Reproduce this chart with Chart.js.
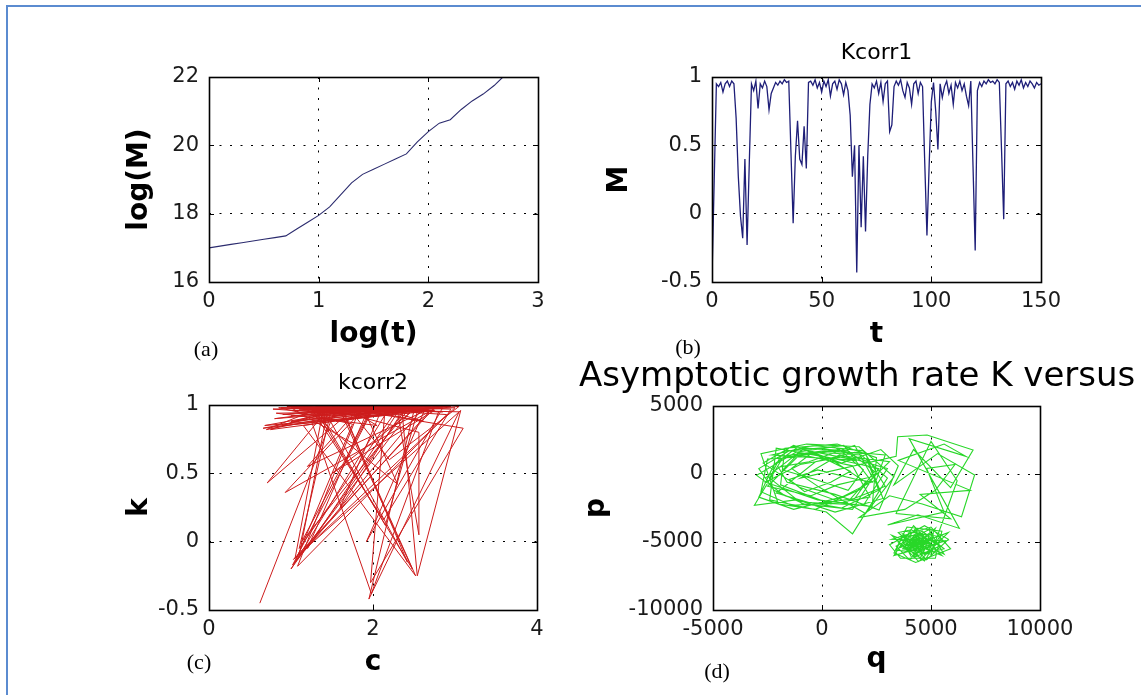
<!DOCTYPE html>
<html><head><meta charset="utf-8">
<script src="https://cdn.jsdelivr.net/npm/chart.js@4.4.1/dist/chart.umd.min.js"></script>
<style>
html,body{margin:0;padding:0;background:#fff;width:1141px;height:695px;overflow:hidden;position:relative;}
canvas{position:absolute;}
.hline{position:absolute;left:6px;top:5px;width:1135px;height:2px;background:#5b8bd0;}
.vline{position:absolute;left:6px;top:5px;width:2px;height:690px;background:#5b8bd0;}
.lab{position:absolute;font-family:"Liberation Serif","Times New Roman",serif;font-size:22px;color:#000;transform:translate(-50%,-50%);line-height:1;white-space:nowrap;}
.bigtitle{position:absolute;left:579px;top:357px;font-family:"DejaVu Sans",sans-serif;font-size:34px;line-height:1;white-space:nowrap;color:#000;}
</style></head>
<body>
<div class="hline"></div><div class="vline"></div>
<canvas id="cA" width="460" height="340" style="left:100px;top:30px"></canvas>
<canvas id="cB" width="480" height="340" style="left:590px;top:30px"></canvas>
<canvas id="cC" width="460" height="325" style="left:100px;top:370px"></canvas>
<canvas id="cD" width="581" height="325" style="left:560px;top:370px"></canvas>
<div class="bigtitle">Asymptotic growth rate K versus</div>
<div class="lab" style="left:206px;top:349px">(a)</div>
<div class="lab" style="left:688px;top:347px">(b)</div>
<div class="lab" style="left:199px;top:662px">(c)</div>
<div class="lab" style="left:717px;top:671px">(d)</div>
<script>
// ---------- data ----------
// (a) log(M) versus log(t)
const aLogT = [0, 0.1, 0.2, 0.3, 0.4, 0.5, 0.6, 0.7, 0.8, 0.9, 1.0, 1.1, 1.2, 1.3, 1.4, 1.5, 1.6, 1.7, 1.8, 1.9, 2.0, 2.1, 2.2, 2.3, 2.4, 2.5, 2.6, 2.68];
const aLogM = [17.0, 17.05, 17.1, 17.15, 17.2, 17.25, 17.3, 17.35, 17.55, 17.75, 17.95, 18.2, 18.55, 18.9, 19.15, 19.3, 19.45, 19.6, 19.75, 20.1, 20.4, 20.65, 20.75, 21.05, 21.3, 21.5, 21.75, 22.0];
const aXTicks = [0, 1, 2, 3];
const aYTicks = [16, 18, 20, 22];

// (b) Kcorr1: M versus t
const bT = [0,1,2,3,4,5,6,7,8,9,10,11,12,13,14,15,16,17,18,19,20,21,22,23,24,25,26,27,28,29,30,31,32,33,34,35,36,37,38,39,40,41,42,43,44,45,46,47,48,49,50,51,52,53,54,55,56,57,58,59,60,61,62,63,64,65,66,67,68,69,70,71,72,73,74,75,76,77,78,79,80,81,82,83,84,85,86,87,88,89,90,91,92,93,94,95,96,97,98,99,100,101,102,103,104,105,106,107,108,109,110,111,112,113,114,115,116,117,118,119,120,121,122,123,124,125,126,127,128,129,130,131,132,133,134,135,136,137,138,139,140,141,142,143,144,145,146,147,148,149,150];
const bM = [-0.47, 0.24, 0.95, 0.93, 0.96, 0.89, 0.95, 0.97, 0.93, 0.97,
  0.95, 0.70, 0.27, -0.02, -0.18, 0.40, -0.23, 0.37, 0.95, 0.90,
  0.97, 0.77, 0.95, 0.92, 0.97, 0.93, 0.76, 0.88, 0.92, 0.96,
  0.94, 0.97, 0.95, 0.98, 0.96, 0.97, 0.45, -0.07, 0.42, 0.68,
  0.40, 0.36, 0.64, 0.33, 0.96, 0.97, 0.94, 0.98, 0.92, 0.96,
  0.89, 0.97, 0.93, 0.98, 0.86, 0.95, 0.97, 0.91, 0.98, 0.95,
  0.87, 0.96, 0.90, 0.72, 0.27, 0.50, -0.43, 0.50, -0.10, 0.42,
  -0.13, 0.42, 0.80, 0.95, 0.92, 0.97, 0.88, 0.96, 0.82, 0.95,
  0.97, 0.60, 0.65, 0.93, 0.97, 0.94, 0.98, 0.90, 0.85, 0.96,
  0.92, 0.80, 0.95, 0.97, 0.88, 0.96, 0.93, 0.37, -0.16, 0.35,
  0.82, 0.96, 0.75, 0.47, 0.95, 0.85, 0.93, 0.97, 0.88, 0.94,
  0.80, 0.96, 0.92, 0.97, 0.90, 0.95, 0.86, 0.79, 0.97, 0.35,
  -0.27, 0.90, 0.96, 0.93, 0.97, 0.95, 0.98, 0.96, 0.97, 0.95,
  0.98, 0.96, 0.47, -0.04, 0.95, 0.97, 0.93, 0.96, 0.91, 0.97,
  0.94, 0.98, 0.92, 0.96, 0.93, 0.97, 0.95, 0.92, 0.96, 0.94, 0.95];
const bXTicks = [0, 50, 100, 150];
const bYTicks = [-0.5, 0, 0.5, 1];

// (c) kcorr2: k versus c
const cC = [0.62, 1.55, 0.75, 2.9, 1.2, 2.4, 1.0, 2.2, 0.9, 1.8,
  0.71, 1.45, 1.1, 2.7, 1.3, 2.05, 0.66, 2.6, 1.05, 1.75,
  0.85, 3.05, 1.95, 2.5, 1.6, 2.52, 1.15, 2.8, 0.93, 1.9,
  1.0, 2.3, 2.56, 2.56, 1.35, 2.95, 2.13, 1.25, 2.0, 1.13,
  2.45, 0.8, 1.7, 3.1, 1.97, 2.15, 1.5, 2.75, 1.03, 3.07,
  2.54, 2.35, 0.95, 1.65, 2.42, 1.4, 2.65, 1.92, 2.85, 1.1,
  2.0, 0.78, 2.25, 1.55, 2.68, 1.2, 1.85, 1.08, 2.9, 1.3,
  2.6, 0.9, 1.7, 2.1, 1.6, 2.4, 1.45, 2.2, 1.0, 3.0,
  1.05, 1.4, 0.7, 2.0, 1.02, 2.5, 1.25, 1.98, 2.8, 1.15,
  2.3, 1.9, 0.88, 2.55, 2.15, 1.35, 2.95, 1.5, 1.1, 2.25,
  0.68, 1.8, 2.62, 2.0, 1.75, 1.0, 2.7, 1.3, 2.48, 1.6,
  0.97, 2.85, 1.95, 1.2, 2.35, 1.65, 2.05, 0.82, 2.75, 1.5,
  2.45, 1.15, 2.1, 1.85, 2.58, 1.0, 3.05, 2.2, 1.7, 2.4];
const cK = [-0.45, 0.98, 0.82, 0.99, 0.95, 0.97, -0.2, 0.98, 0.93, 0.99,
  0.43, 0.97, -0.1, 0.96, 0.92, 0.99, 0.83, 0.97, -0.15, 0.86,
  0.98, 0.95, -0.42, 0.96, 0.99, -0.25, 0.85, 0.99, 0.36, 0.98,
  0.96, 0.95, 0.05, 0.8, 0.99, 0.97, 0.16, 0.97, 0.98, 0.0,
  0.98, 0.9, 0.97, 0.83, -0.3, 0.99, 0.92, 0.98, -0.13, 0.96,
  -0.25, 0.98, 0.99, 0.94, -0.15, 0.97, 0.99, 0.0, 0.98, 0.97,
  0.92, 0.97, 0.99, 0.88, 0.97, 0.55, 0.99, -0.18, 0.93, 0.99,
  0.95, 0.85, 0.99, 0.96, 0.25, 0.99, 0.96, 0.98, 0.92, 0.98,
  -0.12, 0.99, 0.82, 0.97, -0.17, 0.99, 0.88, -0.38, 0.95, 0.99,
  0.42, 0.95, 0.98, 0.97, 0.12, 0.94, 0.99, 0.99, -0.05, 0.93,
  0.85, 0.97, 0.88, 0.99, 0.72, 0.98, 0.99, 0.96, -0.2, 0.96,
  0.99, 0.95, 0.98, -0.05, 0.99, 0.99, 0.85, 0.94, 0.96, 0.5,
  0.94, 0.97, 0.99, 0.93, 0.99, 0.88, 0.99, 0.6, 0.98, 0.96];
const cXTicks = [0, 2, 4];
const cYTicks = [-0.5, 0, 0.5, 1];

// (d) p versus q
const dQ = [-2600, -800, 1200, 2400, 1500, -700, -2200, -2900, -1500, 500,
  2100, 2600, 900, -1200, -3100, -1800, -200, 1800, 3000, 1400,
  200, -2400, -2100, 300, 2000, 1100, -1000, -2700, -1300, 900,
  2700, 3500, 2620, 600, -1600, -2000, -600, 1500, 2300, 700,
  -500, -2500, -1100, 800, 1900, 1200, -300, -1800, -900, 1600,
  -2300, -400, 1900, 2900, 1000, -1400, -2800, -2500, -600, 1400,
  2200, 400, -1900, -1700, 700, 2500, 2300, -200, -2600, -1000,
  1100, 3100, 1800, -300, -2000, -2800, -700, 1700, 3300, 2000,
  -100, -1400, -500, 1200, 2600, 1400, -900, -2400, -1900, 100,
  2000, 2800, 600, -1700, -3000, -1200, 1000, 2300, 1600, -200,
  -1500, -800, 400, 1300, 300, -1100, -2200, -2900, -1300, 900,
  2500, 2900, 1500, -300, -2100, -600, 1900, 3000, 800, -1000,
  3400, 3470, 4820, 6930, 5900, 4200, 3300, 5300, 7000, 6400,
  4600, 3100, 1700, 3800, 5200, 6100, 4800, 5600, 3010, 4400,
  6300, 4000, 6600, 5600, 3500, 6800, 4500, 5900, 3400, 5000, 6200,
  5000, 3400, 3800, 5400, 4700, 3500, 4600, 5600, 4100, 3600,
  5100, 4900, 3700, 4300, 5300, 4200, 3800, 4900, 4700, 3900,
  4400, 5000, 4100, 4000, 4800, 4400, 3900, 4600, 4500, 4100,
  4700, 4200, 4500, 4300, 5800, 4440, 3200, 5500, 4200, 3300, 5700,
  3200, 5000, 5900, 4300, 3300, 3900, 5500, 5200, 3600, 3100,
  4700, 5800, 4800, 3500, 4100, 5400, 4000, 3400, 4900, 5600,
  3700, 4500, 5200, 3800, 4600, 5100, 3900, 4700, 4300, 3600,
  5000, 4200, 4800, 3800, 4400, 4600, 4000, 5000, 4200, 4500,
  3900, 4800, 4100, 4600, 4300, 4400, 4200, 4700, 4000, 4500];
const dP = [-300, 1900, 1700, 200, -1800, -2300, -1200, 400, 1700, 2000,
  900, -1200, -2500, -1900, -2300, 1200, 1600, 1400, -300, -4400,
  -2800, -1900, 1900, 1200, -600, -2200, -1000, 800, 2100, 800,
  1800, 600, -2650, -1500, -600, 500, 900, 2100, -200, -800,
  -1600, -900, 1300, 1800, 300, -1200, -400, 300, 1800, 1000,
  1400, 2100, 1700, -900, -2100, -2300, -1300, 1100, 1300, 600,
  -1700, -2200, -800, 1900, 2200, 1200, -2400, -1900, -600, 700,
  1300, 900, -1100, -2600, -2200, 1500, 2200, 2000, -200, -2900,
  -1000, 400, 1500, 900, 400, -2600, -2200, -300, 1300, 1700,
  1500, -1800, -2800, -1600, -100, 1600, 2100, -600, -400, 300,
  -400, -1300, -600, 200, 1000, 2000, 700, -1700, -2600, -1700,
  -400, 1400, 1600, 900, -1400, -2100, -2300, 400, 1400, -300,
  1300, 2740, 2870, 1760, -1000, 1800, -800, 1500, -70, -3140,
  -2200, -1600, -3200, -2600, -1200, 700, 400, -2800, -3750, -3000,
  -4000, 2600, 1300, 2200, 1000, -1200, -1500, -3300, -2900, 2400, -500,
  -5900, -5600, -4200, -4600, -6400, -5000, -4200, -5500, -6100, -4600,
  -4400, -5800, -5500, -4400, -5100, -5900, -4900, -4600, -5600, -5400,
  -4600, -5200, -5600, -4800, -4900, -5700, -5100, -4700, -5500, -5000,
  -5200, -5300, -4900, -5200, -4300, -6440, -4500, -6000, -3800, -6000, -4900,
  -4800, -3900, -5500, -6500, -5800, -3900, -4200, -6200, -6200, -5200,
  -3800, -4800, -6300, -4300, -4100, -5300, -6300, -5300, -4100, -5900,
  -4400, -6200, -4000, -5800, -4400, -5700, -4700, -5900, -4000, -5400,
  -4700, -6000, -5400, -5200, -4500, -5800, -5000, -5100, -4800, -5400,
  -5700, -4600, -5300, -5100, -4700, -5500, -5200, -4900, -5300, -5000];
const dXTicks = [-5000, 0, 5000, 10000];
const dYTicks = [-10000, -5000, 0, 5000];

// ---------- drawing ----------
Chart.defaults.font.family = '"DejaVu Sans", sans-serif';
Chart.defaults.color = '#111';

const boxPlugin = {
  id: 'matBox',
  afterDraw(chart) {
    const {ctx, chartArea: a, scales} = chart;
    ctx.save();
    ctx.strokeStyle = '#000';
    ctx.lineWidth = 1;
    const L = 5;
    ctx.beginPath();
    scales.x.ticks.forEach(t => {
      const x = Math.round(scales.x.getPixelForValue(t.value)) + 0.5;
      ctx.moveTo(x, a.bottom); ctx.lineTo(x, a.bottom - L);
      ctx.moveTo(x, a.top); ctx.lineTo(x, a.top + L);
    });
    scales.y.ticks.forEach(t => {
      const y = Math.round(scales.y.getPixelForValue(t.value)) + 0.5;
      ctx.moveTo(a.left, y); ctx.lineTo(a.left + L, y);
      ctx.moveTo(a.right, y); ctx.lineTo(a.right - L, y);
    });
    ctx.stroke();
    ctx.lineWidth = 1.6;
    ctx.strokeRect(Math.round(a.left) + 0.5, Math.round(a.top) + 0.5, Math.round(a.right - a.left), Math.round(a.bottom - a.top));
    ctx.restore();
  }
};

function pts(xs, ys) { return xs.map((x, i) => ({x: x, y: ys[i]})); }

function axis(o) {
  const isX = o.axis === 'x';
  return {
    type: 'linear', min: o.min, max: o.max,
    afterBuildTicks: s => { s.ticks = o.ticks.map(v => ({value: v})); },
    afterFit: s => { if (isX) s.height = o.size; else s.width = o.size; },
    grid: { color: '#000', lineWidth: 1, drawTicks: false },
    border: { display: false, dash: [2, 8.5] },
    ticks: { padding: o.pad, autoSkip: false, maxRotation: 0, font: {size: 21}, color: '#1a1a1a', callback: v => String(v) },
    title: { display: true, text: o.title, color: '#000', font: {size: 28, weight: 'bold'},
      padding: isX ? {top: 0, bottom: o.tpad} : {top: o.tpad, bottom: 0} }
  };
}

function make(id, data, color, width, xo, yo, pad, title) {
  const plugins = { legend: {display: false}, tooltip: {enabled: false} };
  if (title) {
    plugins.title = { display: true, text: title.text, fullSize: false, color: '#000',
      font: {size: 22, weight: 'normal'}, padding: {top: title.pt, bottom: title.pb} };
  }
  new Chart(document.getElementById(id), {
    type: 'scatter',
    data: { datasets: [{ data: data, showLine: true, borderColor: color, borderWidth: width, pointRadius: 0, tension: 0, fill: false }] },
    options: {
      responsive: false, animation: false, devicePixelRatio: 1,
      layout: { padding: pad },
      plugins: plugins,
      scales: { x: axis(xo), y: axis(yo) }
    },
    plugins: [boxPlugin]
  });
}

make('cA', pts(aLogT, aLogM), '#2b2b6e', 1.1,
  {axis: 'x', min: 0, max: 3, ticks: aXTicks, size: 88, pad: 7, title: 'log(t)', tpad: 18},
  {axis: 'y', min: 16, max: 22, ticks: aYTicks, size: 109, pad: 10, title: 'log(M)', tpad: 23},
  {top: 47, right: 22, left: 0, bottom: 0});

make('cB', pts(bT, bM), '#1e1e78', 1.3,
  {axis: 'x', min: 0, max: 150, ticks: bXTicks, size: 88, pad: 7, title: 't', tpad: 18},
  {axis: 'y', min: -0.5, max: 1, ticks: bYTicks, size: 122, pad: 10, title: 'M', tpad: 13},
  {top: 0, right: 29, left: 0, bottom: 0},
  {text: 'Kcorr1', pt: 10, pb: 10.6});

make('cC', pts(cC, cK), 'rgb(205,28,28)', 1,
  {axis: 'x', min: 0, max: 4, ticks: cXTicks, size: 85, pad: 7, title: 'c', tpad: 15},
  {axis: 'y', min: -0.5, max: 1, ticks: cYTicks, size: 109, pad: 10, title: 'k', tpad: 23},
  {top: 0, right: 23, left: 0, bottom: 0},
  {text: 'kcorr2', pt: 0, pb: 8.6});

make('cD', pts(dQ, dP), 'rgb(40,215,40)', 1.1,
  {axis: 'x', min: -5000, max: 10000, ticks: dXTicks, size: 85, pad: 7, title: 'q', tpad: 18},
  {axis: 'y', min: -10000, max: 5000, ticks: dYTicks, size: 153, pad: 10, title: 'p', tpad: 20},
  {top: 36, right: 101, left: 0, bottom: 0});
</script>
</body></html>
